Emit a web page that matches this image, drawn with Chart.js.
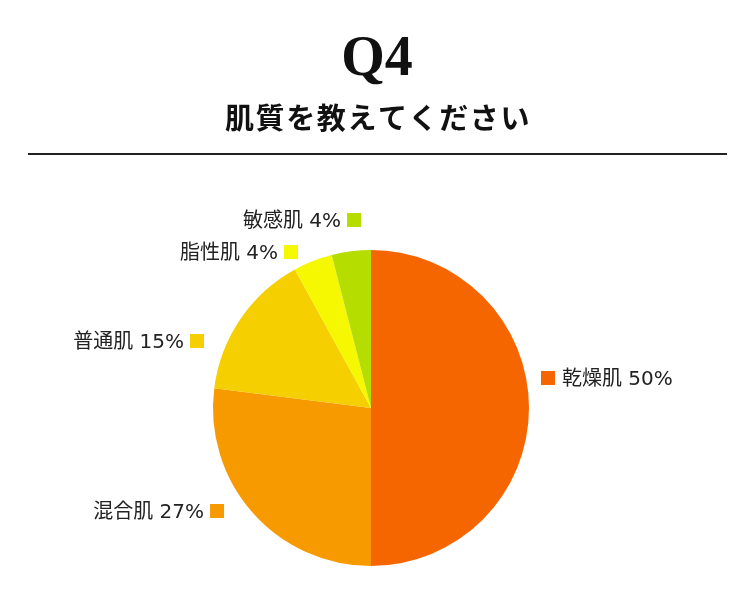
<!DOCTYPE html>
<html>
<head>
<meta charset="utf-8">
<script src="https://cdn.jsdelivr.net/npm/chart.js@4"></script>
<style>
  html, body { margin: 0; padding: 0; background: #fff; }
  #wrap { width: 755px; height: 608px; position: relative; }
</style>
</head>
<body>
<div id="wrap"><canvas id="skinChart" width="755" height="608"></canvas></div>
<script>
// データ
const titleText = "Q4";
const subtitleText = "肌質を教えてください";
const categories = ["乾燥肌", "混合肌", "普通肌", "脂性肌", "敏感肌"];
const percentValues = [50, 27, 15, 4, 4];
const sliceColors = ["#f56600", "#f79a00", "#f5cf00", "#f5f800", "#b5dd00"];

// ラベルの位置（円の中心からの距離、半径単位）と向き
const labelLayout = [
  { dx: 1.076, dy: -0.19, side: "right" },
  { dx: -0.93, dy: 0.652, side: "left" },
  { dx: -1.057, dy: -0.424, side: "left" },
  { dx: -0.462, dy: -0.987, side: "left" },
  { dx: -0.063, dy: -1.19, side: "left" },
];

// 見出しと区切り線
const headerPlugin = {
  id: "header",
  afterDraw(chart) {
    const ctx = chart.ctx;
    ctx.save();
    ctx.fillStyle = "#111";
    ctx.textAlign = "center";
    ctx.textBaseline = "alphabetic";
    ctx.font = "bold 56px 'Liberation Serif', serif";
    ctx.fillText(titleText, 377, 75);
    ctx.font = "bold 29px 'Noto Sans CJK JP', sans-serif";
    ctx.letterSpacing = "1.6px";
    ctx.fillText(subtitleText, 378, 129);
    ctx.letterSpacing = "0px";
    ctx.strokeStyle = "#222";
    ctx.lineWidth = 2;
    ctx.beginPath();
    ctx.moveTo(28, 154);
    ctx.lineTo(727, 154);
    ctx.stroke();
    ctx.restore();
  },
};

// 各スライスのラベル（色の四角＋テキスト）
const sliceLabelPlugin = {
  id: "sliceLabels",
  afterDatasetsDraw(chart) {
    const ctx = chart.ctx;
    const arcs = chart.getDatasetMeta(0).data;
    ctx.save();
    ctx.font = "20px 'DejaVu Sans', 'Noto Sans CJK JP', sans-serif";
    ctx.textBaseline = "middle";
    arcs.forEach((arc, i) => {
      const r = arc.outerRadius;
      const lay = labelLayout[i];
      const y = arc.y + lay.dy * r;
      const text = categories[i] + " " + percentValues[i] + "%";
      const box = 14;
      const x = arc.x + lay.dx * r;
      ctx.fillStyle = sliceColors[i];
      if (lay.side === "right") {
        ctx.fillRect(x, y - box / 2, box, box);
        ctx.fillStyle = "#222";
        ctx.textAlign = "left";
        ctx.fillText(text, x + box + 7, y + 2);
      } else {
        ctx.fillRect(x - box, y - box / 2, box, box);
        ctx.fillStyle = "#222";
        ctx.textAlign = "right";
        ctx.fillText(text, x - box - 6, y + 2);
      }
    });
    ctx.restore();
  },
};

new Chart(document.getElementById("skinChart"), {
  type: "pie",
  data: {
    labels: categories,
    datasets: [{
      data: percentValues,
      backgroundColor: sliceColors,
      borderWidth: 0,
    }],
  },
  options: {
    responsive: false,
    animation: false,
    devicePixelRatio: 1,
    layout: {
      padding: { top: 250, bottom: 42, left: 213, right: 226 },
    },
    plugins: {
      legend: { display: false },
      tooltip: { enabled: false },
    },
  },
  plugins: [headerPlugin, sliceLabelPlugin],
});
</script>
</body>
</html>
